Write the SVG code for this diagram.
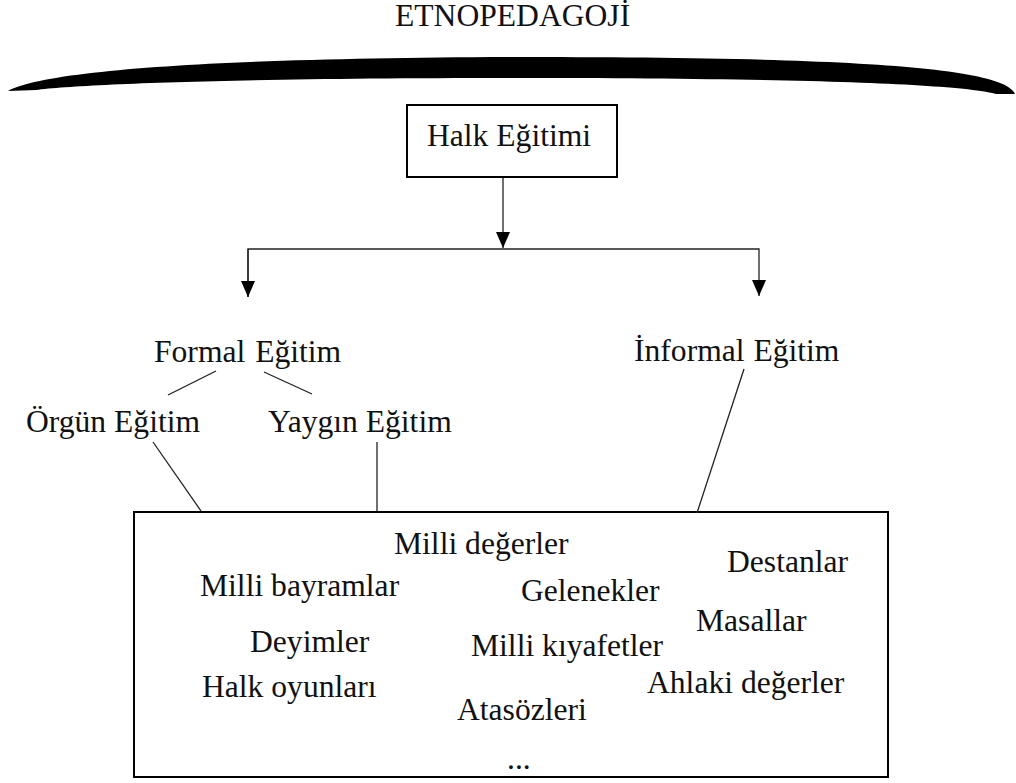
<svg xmlns="http://www.w3.org/2000/svg" width="1016" height="783" viewBox="0 0 1016 783">
<style>
text{font-family:"Liberation Serif","Times New Roman",serif;font-size:31.6px;fill:#111}
.box{fill:none;stroke:#000;stroke-width:2}
.ln{fill:none;stroke:#222;stroke-width:1.3}
</style>
<defs>
<marker id="arr" viewBox="0 0 16 14" refX="16" refY="7" markerWidth="16" markerHeight="14" markerUnits="userSpaceOnUse" orient="auto">
<path d="M0,0 L16,7 L0,14 Z" fill="#000"/>
</marker>
</defs>
<rect width="1016" height="783" fill="#fff"/>
<g id="title">
<text x="395" y="26">ETNOPEDAGOJİ</text>
<path d="M8 91 C50 68 250 58 508 57 C766 57 960 62 1005 85 C1010 88 1014 91 1015 94 L996 94 C960 84 800 78 508 78 C250 78 80 84 36 90 Z" fill="#000"/>
</g>
<g id="halk">
<rect class="box" x="407" y="105" width="210" height="72"/>
<text x="427" y="146">Halk Eğitimi</text>
</g>
<g id="formal"><text x="154" y="362" word-spacing="2">Formal Eğitim</text></g>
<g id="informal"><text x="634" y="361" word-spacing="1">İnformal Eğitim</text></g>
<g id="orgun"><text x="26" y="432">Örgün Eğitim</text></g>
<g id="yaygin"><text x="268" y="432">Yaygın Eğitim</text></g>
<g id="content">
<rect class="box" x="134" y="512" width="754" height="265"/>
<text x="394" y="554">Milli değerler</text>
<text x="200" y="596">Milli bayramlar</text>
<text x="521" y="601">Gelenekler</text>
<text x="727" y="572">Destanlar</text>
<text x="696" y="631">Masallar</text>
<text x="250" y="652">Deyimler</text>
<text x="471" y="656">Milli kıyafetler</text>
<text x="647" y="693">Ahlaki değerler</text>
<text x="202" y="697">Halk oyunları</text>
<text x="457" y="720">Atasözleri</text>
<text x="507" y="769">...</text>
</g>
<g id="connectors">
<line class="ln" x1="503" y1="178" x2="503" y2="248" marker-end="url(#arr)"/>
<polyline class="ln" points="248,297 248,249 759,249 759,296" marker-end="url(#arr)"/>
<line class="ln" x1="248" y1="249" x2="248" y2="297" marker-end="url(#arr)"/>
<line class="ln" x1="216" y1="371" x2="168" y2="395"/>
<line class="ln" x1="264" y1="372" x2="312" y2="394"/>
<line class="ln" x1="153" y1="442" x2="201" y2="511"/>
<line class="ln" x1="377" y1="442" x2="377" y2="511"/>
<line class="ln" x1="744" y1="369" x2="697" y2="513"/>
</g>
</svg>
